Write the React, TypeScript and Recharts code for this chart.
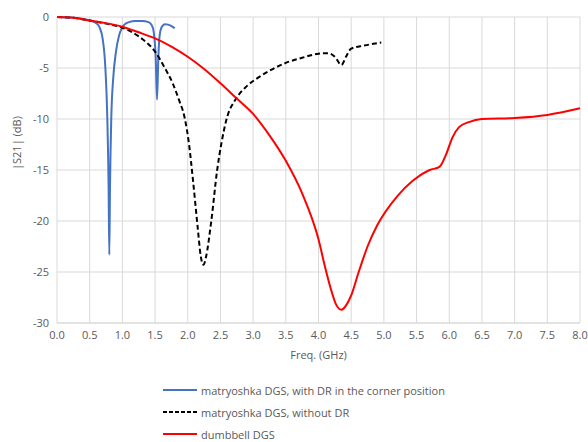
import React from 'react'
import { LineChart, Line, XAxis, YAxis, CartesianGrid } from 'recharts'

// |S21| in dB vs frequency in GHz
const freqWithDR = [0, 0.1, 0.2, 0.3, 0.4, 0.5, 0.6, 0.65, 0.7, 0.74, 0.77, 0.79, 0.8, 0.81, 0.83, 0.86, 0.9, 0.95, 1.0, 1.05, 1.1, 1.2, 1.3, 1.4, 1.45, 1.48, 1.51, 1.53, 1.55, 1.57, 1.6, 1.65, 1.7, 1.75, 1.8]
const s21WithDR = [0, -0.02, -0.05, -0.1, -0.2, -0.35, -0.6, -1.0, -2.2, -5, -10, -17, -23.3, -17, -10, -6, -3.5, -1.8, -1.0, -0.65, -0.5, -0.4, -0.4, -0.5, -0.8, -1.5, -4, -8.1, -4, -1.8, -1.0, -0.7, -0.75, -0.9, -1.1]

const freqNoDR = [0, 0.25, 0.5, 0.75, 1.0, 1.25, 1.5, 1.65, 1.77, 1.87, 1.95, 2.02, 2.08, 2.15, 2.2, 2.24, 2.28, 2.36, 2.45, 2.52, 2.59, 2.74, 2.9, 3.1, 3.3, 3.5, 3.75, 4.0, 4.15, 4.25, 4.35, 4.42, 4.5, 4.7, 4.96]
const s21NoDR = [0, -0.08, -0.35, -0.65, -1.05, -1.9, -3.4, -5.0, -6.5, -8.2, -9.8, -12.5, -16, -20.5, -23.5, -24.3, -23.5, -20, -15, -12.2, -10.1, -8.0, -6.8, -5.85, -5.1, -4.5, -4.0, -3.6, -3.55, -3.9, -4.7, -3.9, -3.1, -2.8, -2.5]

const freqDumbbell = [0, 0.25, 0.5, 0.75, 1.0, 1.25, 1.5, 1.75, 2.0, 2.25, 2.5, 2.75, 3.0, 3.25, 3.5, 3.75, 4.0, 4.1, 4.2, 4.27, 4.35, 4.43, 4.5, 4.6, 4.75, 4.9, 5.2, 5.45, 5.7, 5.85, 5.95, 6.05, 6.15, 6.3, 6.5, 7.0, 7.5, 8.0]
const s21Dumbbell = [0, -0.08, -0.35, -0.6, -0.95, -1.5, -2.1, -2.9, -3.9, -5.1, -6.5, -8.0, -9.5, -11.6, -14.1, -17.3, -21.8, -24.5, -26.9, -28.2, -28.7, -28.2, -27.3, -25.3, -22.5, -20.4, -17.6, -16, -15, -14.7, -13.5, -11.8, -10.8, -10.3, -10.0, -9.9, -9.6, -8.95]

const xTicks = [0, 0.5, 1, 1.5, 2, 2.5, 3, 3.5, 4, 4.5, 5, 5.5, 6, 6.5, 7, 7.5, 8]
const yTicks = [-30, -25, -20, -15, -10, -5, 0]

const seriesNames = [
  'matryoshka DGS, with DR in the corner position',
  'matryoshka DGS, without DR',
  'dumbbell DGS',
]

const toPoints = (xs: number[], ys: number[]) => xs.map((f, i) => ({ f, v: ys[i] }))

const COLORS = {
  withDR: '#4472C4',
  noDR: '#000000',
  dumbbell: '#FF0000',
  grid: '#D9D9D9',
  text: '#595959',
}

const FONT = '"Open Sans", sans-serif'

export default function App() {
  const legendItems = [
    { name: seriesNames[0], color: COLORS.withDR, dash: undefined },
    { name: seriesNames[1], color: COLORS.noDR, dash: '4 2' },
    { name: seriesNames[2], color: COLORS.dumbbell, dash: undefined },
  ]

  return (
    <div style={{ position: 'relative', width: 588, height: 442, fontFamily: FONT, overflow: 'hidden' }}>
      <style>{'body{margin:0}'}</style>
      <LineChart width={588} height={442} margin={{ top: 17, right: 8, bottom: 0, left: 0 }}>
        <CartesianGrid stroke={COLORS.grid} verticalValues={xTicks} horizontalValues={yTicks} />
        <XAxis
          type="number"
          dataKey="f"
          domain={[0, 8]}
          ticks={xTicks}
          tickFormatter={(v: number) => v.toFixed(1)}
          height={119}
          tickLine={false}
          axisLine={{ stroke: COLORS.grid }}
          tick={{ fill: COLORS.text, fontSize: 11, fontFamily: FONT }}
          label={{ value: 'Freq. (GHz)', position: 'insideTop', offset: 28, fill: COLORS.text, fontSize: 11, fontFamily: FONT }}
        />
        <YAxis
          type="number"
          domain={[-30, 0]}
          ticks={yTicks}
          width={57}
          tickLine={false}
          axisLine={false}
          tick={{ fill: COLORS.text, fontSize: 11, fontFamily: FONT }}
          label={{ value: '|S21| (dB)', angle: -90, position: 'insideLeft', offset: 17, fill: COLORS.text, fontSize: 11, fontFamily: FONT }}
        />
        <Line data={toPoints(freqWithDR, s21WithDR)} dataKey="v" type="monotone" stroke={COLORS.withDR} strokeWidth={2} dot={false} isAnimationActive={false} />
        <Line data={toPoints(freqNoDR, s21NoDR)} dataKey="v" type="monotone" stroke={COLORS.noDR} strokeWidth={2} strokeDasharray="5 3" dot={false} isAnimationActive={false} />
        <Line data={toPoints(freqDumbbell, s21Dumbbell)} dataKey="v" type="monotone" stroke={COLORS.dumbbell} strokeWidth={2} dot={false} isAnimationActive={false} />
      </LineChart>
      <div style={{ position: 'absolute', left: 163, top: 379 }}>
        {legendItems.map((item) => (
          <div key={item.name} style={{ display: 'flex', alignItems: 'center', height: 22, fontSize: 11, lineHeight: 1, color: COLORS.text }}>
            <svg width={34} height={4} style={{ marginRight: 4 }}>
              <line x1={0} y1={2} x2={34} y2={2} stroke={item.color} strokeWidth={2} strokeDasharray={item.dash} />
            </svg>
            <span>{item.name}</span>
          </div>
        ))}
      </div>
    </div>
  )
}
